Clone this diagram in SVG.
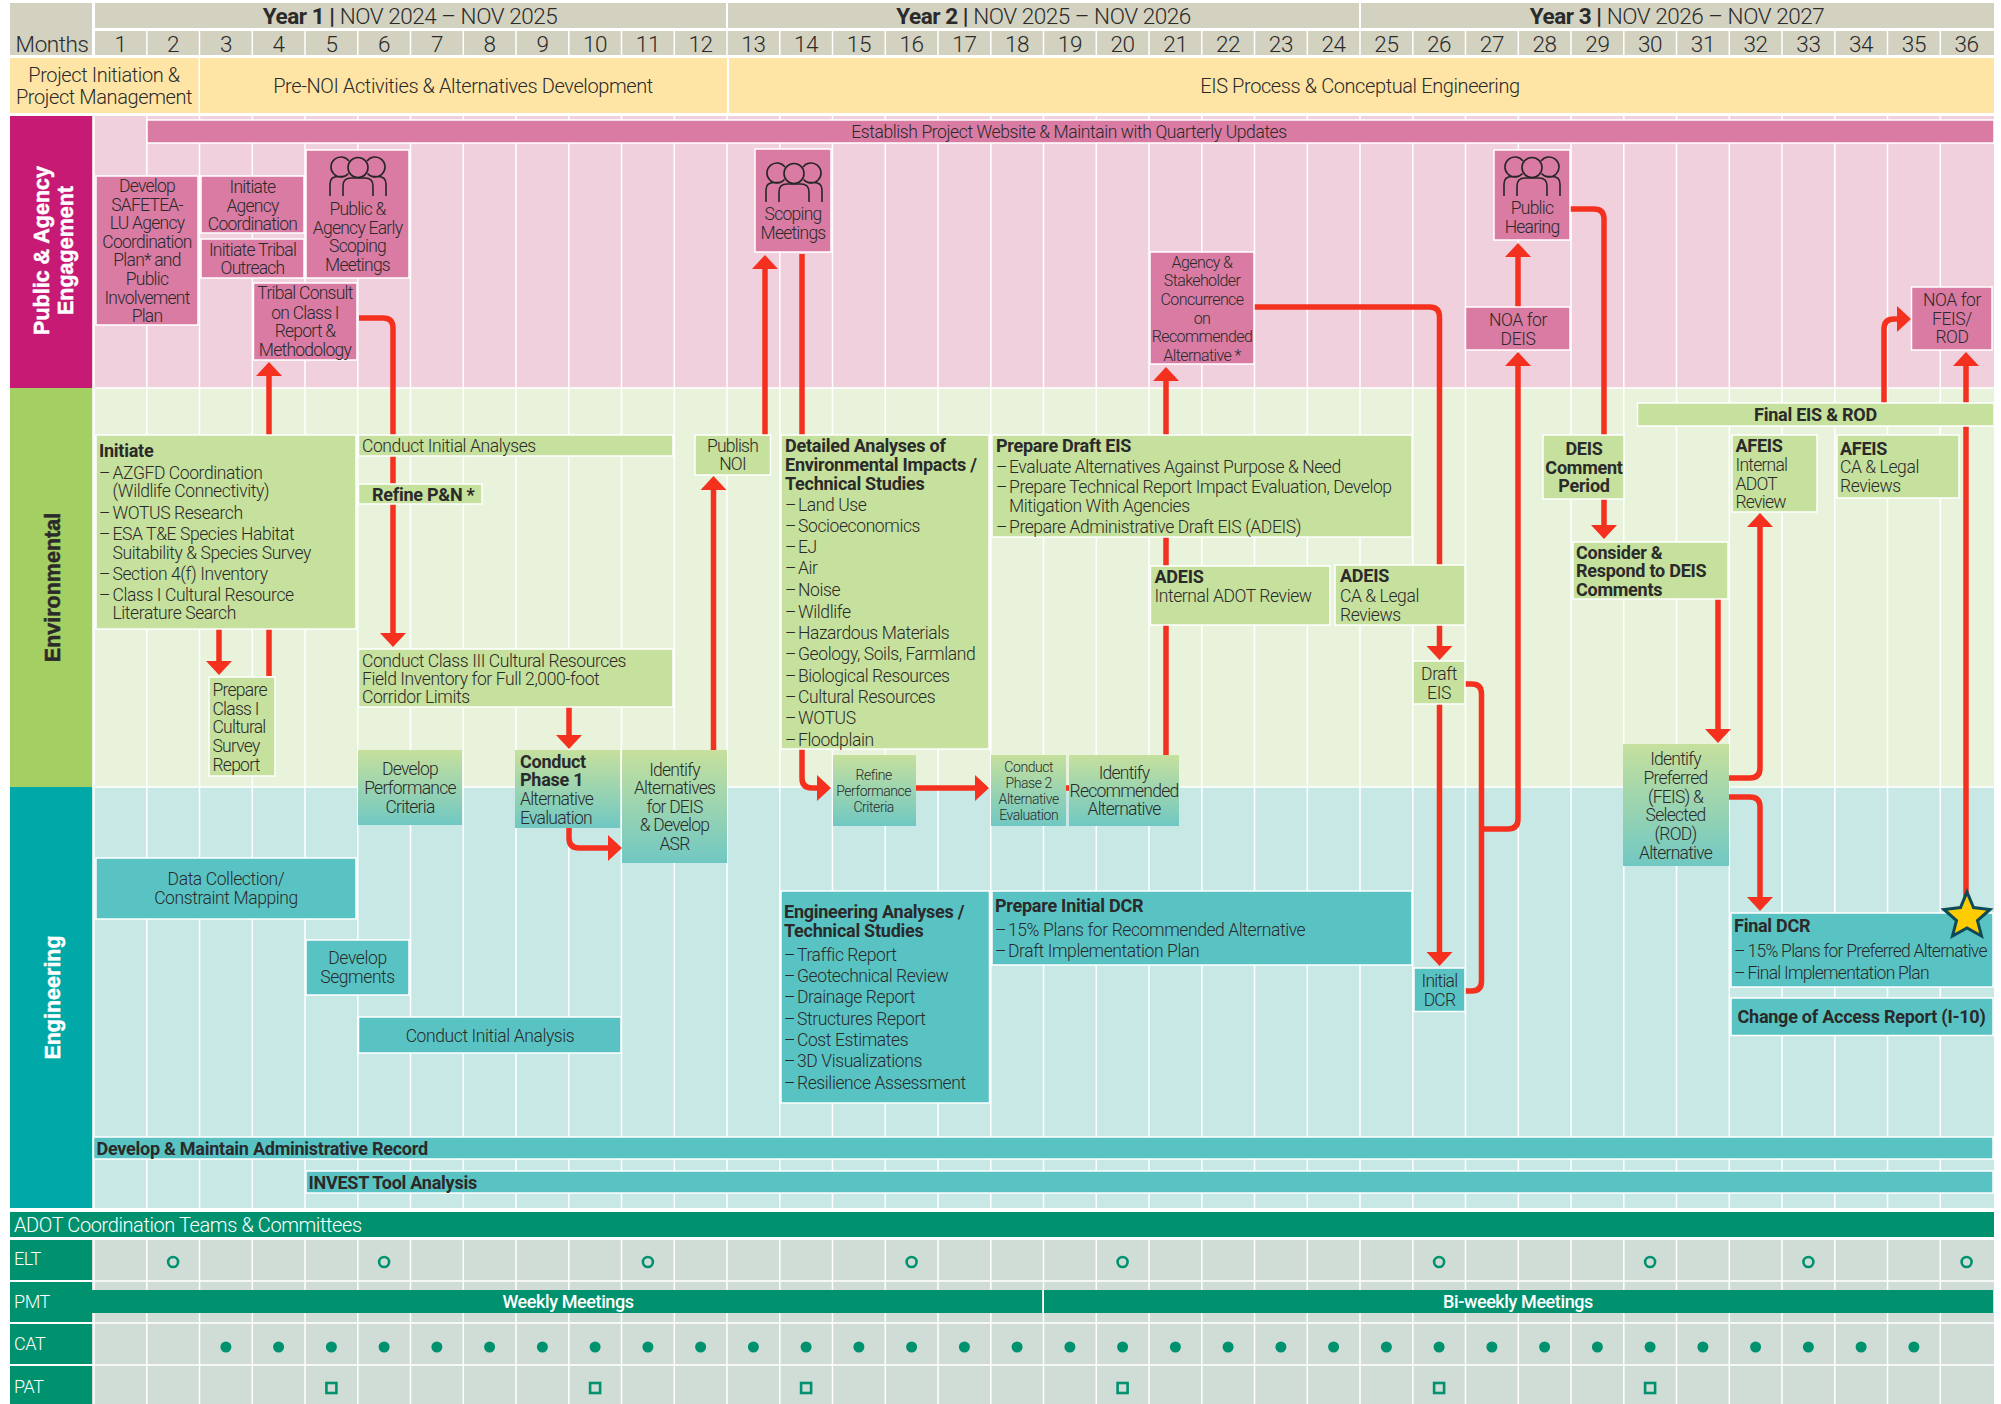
<svg xmlns="http://www.w3.org/2000/svg" width="2001" height="1404" viewBox="0 0 2001 1404">
<style>
text{font-family:"Roboto","Liberation Sans",sans-serif;font-weight:300;font-size:17.500px;fill:#2a2a2a;letter-spacing:-.4px}
.m{text-anchor:middle}
.b,.b tspan{font-weight:700;font-size:18px;letter-spacing:-.25px}
.s{font-size:14px;letter-spacing:-.45px}
.h{font-size:22.500px;letter-spacing:-.45px}
.y{font-size:20px;letter-spacing:-.4px}
.n{letter-spacing:-.75px}
.w{fill:#fff}
.side{font-family:"Liberation Sans",sans-serif;font-weight:700;font-size:21.500px;letter-spacing:0;text-anchor:middle;stroke-width:.5px}
.p{fill:#d97ba2;stroke:#fff;stroke-width:1.5}
.g{fill:#c6e09d;stroke:#fff;stroke-width:1.5}
.t{fill:#59c3c3;stroke:#fff;stroke-width:1.5}
.gt{fill:url(#gt)}
.hd{fill:#d3d1c0}
.yl{fill:#fee5a5}
.dk{fill:#00926f}
.c{fill:none;stroke:#f4311f;stroke-width:5.5}
.a{marker-end:url(#ah)}
.gl{stroke:#fff;stroke-width:1.5;fill:none}
.ic{fill:none;stroke:#262626;stroke-width:1.6}
.oc{fill:none;stroke:#00926f;stroke-width:2.6}
.dc{fill:#00926f}
</style>
<defs>
<linearGradient id="gt" x1="0" y1="0" x2="0" y2="1"><stop offset="0" stop-color="#c6e09d"/><stop offset="1" stop-color="#70c8c3"/></linearGradient>
<marker id="ah" markerUnits="userSpaceOnUse" viewBox="0 0 14 26" refX="1" refY="13" markerWidth="14" markerHeight="26" orient="auto"><path d="M0 0L14 13L0 26Z" fill="#f4311f"/></marker>
<symbol id="people" viewBox="0 0 58 39" width="58" height="39" overflow="visible">
<circle class="ic" cx="29" cy="10.5" r="10"/>
<path class="ic" d="M19.500 16.500A10 10 0 1 1 20 4M38.500 16.500A10 10 0 1 0 38 4"/>
<path class="ic" d="M14 39V29Q14 21 22 21H36Q44 21 44 29V39M1 39V27Q1 19.500 9 19.500H14M57 39V27Q57 19.500 49 19.500H44"/>
</symbol>
</defs>
<rect width="2001" height="1404" fill="#fff"/>

<g id="bands">
<rect x="92" y="116" width="1902" height="272" fill="#f1d0de"/>
<rect x="92" y="388" width="1902" height="399" fill="#e9f3dc"/>
<rect x="92" y="787" width="1902" height="421" fill="#c8e8e6"/>
<rect x="92" y="1240" width="1902" height="164" fill="#d0ddd6"/>
<path class="gl" d="M92 388H1994M92 787H1994M92 1281H1994M92 1323H1994M92 1365H1994"/>
<path class="gl" d="M94 116V1208M146.800 116V1208M199.500 116V1208M252.300 116V1208M305 116V1208M357.800 116V1208M410.500 116V1208M463.300 116V1208M516 116V1208M568.800 116V1208M621.500 116V1208M674.300 116V1208M727 116V1208M779.800 116V1208M832.500 116V1208M885.300 116V1208M938 116V1208M990.800 116V1208M1043.500 116V1208M1096.300 116V1208M1149 116V1208M1201.800 116V1208M1254.500 116V1208M1307.300 116V1208M1360 116V1208M1412.800 116V1208M1465.500 116V1208M1518.300 116V1208M1571 116V1208M1623.800 116V1208M1676.500 116V1208M1729.300 116V1208M1782 116V1208M1834.800 116V1208M1887.500 116V1208M1940.300 116V1208"/>
<path class="gl" d="M94 1240V1404M146.800 1240V1404M199.500 1240V1404M252.300 1240V1404M305 1240V1404M357.800 1240V1404M410.500 1240V1404M463.300 1240V1404M516 1240V1404M568.800 1240V1404M621.500 1240V1404M674.300 1240V1404M727 1240V1404M779.800 1240V1404M832.500 1240V1404M885.300 1240V1404M938 1240V1404M990.800 1240V1404M1043.500 1240V1404M1096.300 1240V1404M1149 1240V1404M1201.800 1240V1404M1254.500 1240V1404M1307.300 1240V1404M1360 1240V1404M1412.800 1240V1404M1465.500 1240V1404M1518.300 1240V1404M1571 1240V1404M1623.800 1240V1404M1676.500 1240V1404M1729.300 1240V1404M1782 1240V1404M1834.800 1240V1404M1887.500 1240V1404M1940.300 1240V1404"/>
</g>

<g id="header">
<rect class="hd" x="10" y="3" width="82" height="52"/>
<text class="h" x="52" y="51.500" text-anchor="middle">Months</text>
<rect class="hd" x="95" y="3" width="631" height="25"/>
<rect class="hd" x="728" y="3" width="631" height="25"/>
<rect class="hd" x="1361" y="3" width="633" height="25"/>
<text class="h m" x="410" y="24"><tspan font-weight="700">Year 1 | </tspan>NOV 2024 – NOV 2025</text>
<text class="h m" x="1043.500" y="24"><tspan font-weight="700">Year 2 | </tspan>NOV 2025 – NOV 2026</text>
<text class="h m" x="1677" y="24"><tspan font-weight="700">Year 3 | </tspan>NOV 2026 – NOV 2027</text>
<rect class="hd" x="95" y="31" width="1899" height="24"/>
<path class="gl" d="M146.800 31V55M199.500 31V55M252.300 31V55M305 31V55M357.800 31V55M410.500 31V55M463.300 31V55M516 31V55M568.800 31V55M621.500 31V55M674.300 31V55M727 31V55M779.800 31V55M832.500 31V55M885.300 31V55M938 31V55M990.800 31V55M1043.500 31V55M1096.300 31V55M1149 31V55M1201.800 31V55M1254.500 31V55M1307.300 31V55M1360 31V55M1412.800 31V55M1465.500 31V55M1518.300 31V55M1571 31V55M1623.800 31V55M1676.500 31V55M1729.300 31V55M1782 31V55M1834.800 31V55M1887.500 31V55M1940.300 31V55"/>
<text class="h m" y="51.500"><tspan x="120.400">1</tspan><tspan x="173.100">2</tspan><tspan x="225.900">3</tspan><tspan x="278.600">4</tspan><tspan x="331.400">5</tspan><tspan x="384.100">6</tspan><tspan x="436.900">7</tspan><tspan x="489.600">8</tspan><tspan x="542.400">9</tspan><tspan x="595.100">10</tspan><tspan x="647.900">11</tspan><tspan x="700.600">12</tspan><tspan x="753.400">13</tspan><tspan x="806.100">14</tspan><tspan x="858.900">15</tspan><tspan x="911.600">16</tspan><tspan x="964.400">17</tspan><tspan x="1017.100">18</tspan><tspan x="1069.900">19</tspan><tspan x="1122.600">20</tspan><tspan x="1175.400">21</tspan><tspan x="1228.100">22</tspan><tspan x="1280.900">23</tspan><tspan x="1333.600">24</tspan><tspan x="1386.400">25</tspan><tspan x="1439.100">26</tspan><tspan x="1491.900">27</tspan><tspan x="1544.600">28</tspan><tspan x="1597.400">29</tspan><tspan x="1650.100">30</tspan><tspan x="1702.900">31</tspan><tspan x="1755.600">32</tspan><tspan x="1808.400">33</tspan><tspan x="1861.100">34</tspan><tspan x="1913.900">35</tspan><tspan x="1966.600">36</tspan></text>
</g>

<g id="phases">
<rect class="yl" x="10" y="58" width="188.500" height="55"/>
<text class="y m"><tspan x="104" y="82">Project Initiation &amp;</tspan><tspan x="104" y="104">Project Management</tspan></text>
<rect class="yl" x="200" y="58" width="527" height="55"/>
<text class="y m" x="463" y="93">Pre-NOI Activities &amp; Alternatives Development</text>
<rect class="yl" x="729" y="58" width="1265" height="55"/>
<text class="y m" x="1360" y="93">EIS Process &amp; Conceptual Engineering</text>
</g>

<g id="lanes">
<rect x="10" y="116" width="82" height="272" fill="#c71a75"/>
<text class="side w" stroke="#fff" transform="translate(49 250.500) rotate(-90)">Public &amp; Agency</text>
<text class="side w" stroke="#fff" transform="translate(73 250.500) rotate(-90)">Engagement</text>
<rect x="10" y="388" width="82" height="399" fill="#a4cf62"/>
<text class="side" stroke="#2a2a2a" transform="translate(60 587.500) rotate(-90)">Environmental</text>
<rect x="10" y="787" width="82" height="421" fill="#00a9a7"/>
<text class="side w" stroke="#fff" transform="translate(60 997.500) rotate(-90)">Engineering</text>
</g>

<g id="connectors">
<path class="c a" d="M359 318H383Q393 318 393 328V634"/>
<path class="c a" d="M269 676V375"/>
<path class="c a" d="M219 629V662"/>
<path class="c a" d="M569 707V736"/>
<path class="c a" d="M569 828V838Q569 848 579 848H609"/>
<path class="c a" d="M713.500 750V489"/>
<path class="c a" d="M765 435V268"/>
<path class="c a" d="M802 254V778Q802 788 812 788H818"/>
<path class="c a" d="M916 788H976"/>
<path class="c" d="M1066 788H1070"/>
<path class="c a" d="M1166 755V380"/>
<path class="c a" d="M1253 307H1429.500Q1439.500 307 1439.500 317V647"/>
<path class="c a" d="M1439.500 704V953"/>
<path class="c" d="M1465 684H1472Q1481.500 684 1481.500 694V981Q1481.500 991 1472 991H1465"/>
<path class="c a" d="M1481.500 829H1508Q1518 829 1518 819V365"/>
<path class="c a" d="M1518 307V256"/>
<path class="c a" d="M1570 209H1594Q1604 209 1604 219V526"/>
<path class="c a" d="M1718 599V730"/>
<path class="c a" d="M1729 778H1750Q1760 778 1760 768V526"/>
<path class="c a" d="M1729 797H1750Q1760 797 1760 807V898"/>
<path class="c a" d="M1966 900V365"/>
<path class="c a" d="M1884 403V329Q1884 319 1894 319H1898"/>
</g>

<g id="n-website"><rect class="p" x="147" y="120" width="1847" height="23"/><text class="m" x="1069" y="138">Establish Project Website &amp; Maintain with Quarterly Updates</text></g>
<g id="n-safetea"><rect class="p" x="96" y="176" width="102" height="149"/><text class="m n"><tspan x="147" y="192">Develop</tspan><tspan x="147" y="210.500">SAFETEA-</tspan><tspan x="147" y="229">LU Agency</tspan><tspan x="147" y="248">Coordination</tspan><tspan x="147" y="266">Plan* and</tspan><tspan x="147" y="285">Public</tspan><tspan x="147" y="304">Involvement</tspan><tspan x="147" y="322">Plan</tspan></text></g>
<g id="n-agency"><rect class="p" x="201" y="176" width="103" height="57"/><text class="m n"><tspan x="252.500" y="193">Initiate</tspan><tspan x="252.500" y="211.500">Agency</tspan><tspan x="252.500" y="230">Coordination</tspan></text></g>
<g id="n-tribal"><rect class="p" x="201" y="239" width="103" height="39"/><text class="m n"><tspan x="252.500" y="256">Initiate Tribal</tspan><tspan x="252.500" y="274">Outreach</tspan></text></g>
<g id="n-early"><rect class="p" x="306" y="150" width="103" height="128"/><use href="#people" x="329" y="157"/><text class="m n"><tspan x="357.500" y="215">Public &amp;</tspan><tspan x="357.500" y="233.500">Agency Early</tspan><tspan x="357.500" y="252">Scoping</tspan><tspan x="357.500" y="271">Meetings</tspan></text></g>
<g id="n-consult"><rect class="p" x="253.500" y="283" width="103.500" height="77"/><text class="m n"><tspan x="305" y="299">Tribal Consult</tspan><tspan x="305" y="318.500">on Class I</tspan><tspan x="305" y="337">Report &amp;</tspan><tspan x="305" y="356">Methodology</tspan></text></g>
<g id="n-scoping"><rect class="p" x="755" y="149" width="76" height="103"/><use href="#people" x="765" y="163"/><text class="m n"><tspan x="793" y="220">Scoping</tspan><tspan x="793" y="239">Meetings</tspan></text></g>
<g id="n-concurrence"><rect class="p" x="1150" y="252" width="104" height="112"/><text class="m" style="font-size:16px;letter-spacing:-.6px"><tspan x="1202" y="268">Agency &amp;</tspan><tspan x="1202" y="286">Stakeholder</tspan><tspan x="1202" y="305">Concurrence</tspan><tspan x="1202" y="324">on</tspan><tspan x="1202" y="342">Recommended</tspan><tspan x="1202" y="361">Alternative *</tspan></text></g>
<g id="n-hearing"><rect class="p" x="1494" y="150" width="76" height="90"/><use href="#people" x="1503" y="157"/><text class="m n"><tspan x="1532" y="214">Public</tspan><tspan x="1532" y="233">Hearing</tspan></text></g>
<g id="n-noa-deis"><rect class="p" x="1465.500" y="307" width="104.500" height="43"/><text class="m"><tspan x="1518" y="326">NOA for</tspan><tspan x="1518" y="345">DEIS</tspan></text></g>
<g id="n-noa-feis"><rect class="p" x="1911.500" y="287" width="80.500" height="63"/><text class="m"><tspan x="1952" y="306">NOA for</tspan><tspan x="1952" y="325">FEIS/</tspan><tspan x="1952" y="343">ROD</tspan></text></g>

<g id="n-initiate"><rect class="g" x="96" y="435" width="260" height="194"/><text><tspan class="b" x="99" y="457">Initiate</tspan><tspan x="99" y="479">–</tspan><tspan x="112.500" y="479">AZGFD Coordination</tspan><tspan x="112.500" y="497">(Wildlife Connectivity)</tspan><tspan x="99" y="519">–</tspan><tspan x="112.500" y="519">WOTUS Research</tspan><tspan x="99" y="540">–</tspan><tspan x="112.500" y="540">ESA T&amp;E Species Habitat</tspan><tspan x="112.500" y="559">Suitability &amp; Species Survey</tspan><tspan x="99" y="580">–</tspan><tspan x="112.500" y="580">Section 4(f) Inventory</tspan><tspan x="99" y="601">–</tspan><tspan x="112.500" y="601">Class I Cultural Resource</tspan><tspan x="112.500" y="619">Literature Search</tspan></text></g>
<g id="n-prepare-class"><rect class="g" x="209" y="677" width="66" height="99"/><text class="n"><tspan x="212.500" y="696">Prepare</tspan><tspan x="212.500" y="714.500">Class I</tspan><tspan x="212.500" y="733">Cultural</tspan><tspan x="212.500" y="752">Survey</tspan><tspan x="212.500" y="771">Report</tspan></text></g>
<g id="n-initial-analyses"><rect class="g" x="358.500" y="435" width="314.500" height="21"/><text x="362" y="452">Conduct Initial Analyses</text></g>
<g id="n-refine-pn"><rect class="g" x="358.500" y="484" width="123.500" height="20"/><text class="b" x="372" y="501">Refine P&amp;N *</text></g>
<g id="n-class3"><rect class="g" x="358.500" y="649" width="314.500" height="58"/><text><tspan x="362" y="666.500">Conduct Class III Cultural Resources</tspan><tspan x="362" y="685">Field Inventory for Full 2,000-foot</tspan><tspan x="362" y="703">Corridor Limits</tspan></text></g>
<g id="n-perf"><rect class="gt" x="358" y="750" width="104" height="75"/><text class="m n"><tspan x="410" y="775">Develop</tspan><tspan x="410" y="794">Performance</tspan><tspan x="410" y="813">Criteria</tspan></text></g>
<g id="n-phase1"><rect class="gt" x="515" y="750" width="105" height="78"/><text class="n"><tspan class="b" x="520" y="768">Conduct</tspan><tspan class="b" x="520" y="786">Phase 1</tspan><tspan x="520" y="805">Alternative</tspan><tspan x="520" y="824">Evaluation</tspan></text></g>
<g id="n-alternatives"><rect class="gt" x="622" y="750" width="105" height="113"/><text class="m n"><tspan x="674.500" y="776">Identify</tspan><tspan x="674.500" y="794">Alternatives</tspan><tspan x="674.500" y="813">for DEIS</tspan><tspan x="674.500" y="831">&amp; Develop</tspan><tspan x="674.500" y="850">ASR</tspan></text></g>
<g id="n-noi"><rect class="g" x="695" y="435" width="75.500" height="40"/><text class="m n"><tspan x="732.500" y="452">Publish</tspan><tspan x="732.500" y="470">NOI</tspan></text></g>
<g id="n-detailed"><rect class="g" x="781" y="435" width="208" height="314"/><text><tspan class="b" x="785" y="452">Detailed Analyses of</tspan><tspan class="b" x="785" y="471">Environmental Impacts /</tspan><tspan class="b" x="785" y="490">Technical Studies</tspan><tspan x="785" y="511">–</tspan><tspan x="798" y="511">Land Use</tspan><tspan x="785" y="532">–</tspan><tspan x="798" y="532">Socioeconomics</tspan><tspan x="785" y="553">–</tspan><tspan x="798" y="553">EJ</tspan><tspan x="785" y="574">–</tspan><tspan x="798" y="574">Air</tspan><tspan x="785" y="596">–</tspan><tspan x="798" y="596">Noise</tspan><tspan x="785" y="618">–</tspan><tspan x="798" y="618">Wildlife</tspan><tspan x="785" y="639">–</tspan><tspan x="798" y="639">Hazardous Materials</tspan><tspan x="785" y="660">–</tspan><tspan x="798" y="660">Geology, Soils, Farmland</tspan><tspan x="785" y="682">–</tspan><tspan x="798" y="682">Biological Resources</tspan><tspan x="785" y="703">–</tspan><tspan x="798" y="703">Cultural Resources</tspan><tspan x="785" y="724">–</tspan><tspan x="798" y="724">WOTUS</tspan><tspan x="785" y="746">–</tspan><tspan x="798" y="746">Floodplain</tspan></text></g>
<g id="n-draft"><rect class="g" x="992" y="435" width="420" height="102"/><text><tspan class="b" x="996" y="452">Prepare Draft EIS</tspan><tspan x="996" y="473">–</tspan><tspan x="1009" y="473">Evaluate Alternatives Against Purpose &amp; Need</tspan><tspan x="996" y="493">–</tspan><tspan x="1009" y="493">Prepare Technical Report Impact Evaluation, Develop</tspan><tspan x="1009" y="512">Mitigation With Agencies</tspan><tspan x="996" y="533">–</tspan><tspan x="1009" y="533">Prepare Administrative Draft EIS (ADEIS)</tspan></text></g>
<g id="n-adeis-int"><rect class="g" x="1150.500" y="566" width="179.500" height="59"/><text><tspan class="b" x="1154.500" y="583">ADEIS</tspan><tspan x="1154.500" y="602">Internal ADOT Review</tspan></text></g>
<g id="n-adeis-ca"><rect class="g" x="1335" y="565" width="130" height="60"/><text><tspan class="b" x="1340" y="582">ADEIS</tspan><tspan x="1340" y="602">CA &amp; Legal</tspan><tspan x="1340" y="621">Reviews</tspan></text></g>
<g id="n-refine-perf"><rect class="gt" x="833" y="755" width="83" height="71"/><text class="m s"><tspan x="873.700" y="780">Refine</tspan><tspan x="873.700" y="796">Performance</tspan><tspan x="873.700" y="812">Criteria</tspan></text></g>
<g id="n-phase2"><rect class="gt" x="991" y="755" width="75" height="71"/><text class="m s"><tspan x="1028.700" y="772">Conduct</tspan><tspan x="1028.700" y="788">Phase 2</tspan><tspan x="1028.700" y="804">Alternative</tspan><tspan x="1028.700" y="820">Evaluation</tspan></text></g>
<g id="n-recommended"><rect class="gt" x="1069" y="755" width="110" height="71"/><text class="m n"><tspan x="1124" y="779">Identify</tspan><tspan x="1124" y="797">Recommended</tspan><tspan x="1124" y="815">Alternative</tspan></text></g>
<g id="n-draft-eis"><rect class="g" x="1413" y="661" width="52" height="43"/><text class="m"><tspan x="1439" y="680">Draft</tspan><tspan x="1439" y="699">EIS</tspan></text></g>
<g id="n-comment"><rect class="g" x="1543" y="435" width="81" height="64"/><text class="m b"><tspan x="1584" y="455">DEIS</tspan><tspan x="1584" y="474">Comment</tspan><tspan x="1584" y="492">Period</tspan></text></g>
<g id="n-respond"><rect class="g" x="1573" y="542" width="155" height="57"/><text class="b"><tspan x="1576" y="559">Consider &amp;</tspan><tspan x="1576" y="577">Respond to DEIS</tspan><tspan x="1576" y="596">Comments</tspan></text></g>
<g id="n-preferred"><rect class="gt" x="1623" y="744" width="106" height="122"/><text class="m n"><tspan x="1675.500" y="764.500">Identify</tspan><tspan x="1675.500" y="783.500">Preferred</tspan><tspan x="1675.500" y="803">(FEIS) &amp;</tspan><tspan x="1675.500" y="821">Selected</tspan><tspan x="1675.500" y="840">(ROD)</tspan><tspan x="1675.500" y="859">Alternative</tspan></text></g>
<g id="n-afeis-int"><rect class="g" x="1732" y="435" width="85" height="77"/><text class="n"><tspan class="b" x="1735.500" y="451.500">AFEIS</tspan><tspan x="1735.500" y="471">Internal</tspan><tspan x="1735.500" y="490">ADOT</tspan><tspan x="1735.500" y="508">Review</tspan></text></g>
<g id="n-afeis-ca"><rect class="g" x="1837" y="435" width="122" height="63"/><text><tspan class="b" x="1840" y="454.500">AFEIS</tspan><tspan x="1840" y="473">CA &amp; Legal</tspan><tspan x="1840" y="492">Reviews</tspan></text></g>
<g id="n-final-eis"><rect class="g" x="1637.500" y="403" width="356.500" height="23"/><text class="m b" x="1815.500" y="420.500">Final EIS &amp; ROD</text></g>

<g id="n-data"><rect class="t" x="96" y="858" width="260" height="61"/><text class="m"><tspan x="226" y="885">Data Collection/</tspan><tspan x="226" y="904">Constraint Mapping</tspan></text></g>
<g id="n-segments"><rect class="t" x="306" y="940" width="103" height="55"/><text class="m"><tspan x="357.500" y="964">Develop</tspan><tspan x="357.500" y="983">Segments</tspan></text></g>
<g id="n-analysis"><rect class="t" x="358.500" y="1017" width="262.500" height="36"/><text class="m" x="490" y="1042">Conduct Initial Analysis</text></g>
<g id="n-eng"><rect class="t" x="781" y="891" width="208.500" height="212"/><text><tspan class="b" x="784" y="918">Engineering Analyses /</tspan><tspan class="b" x="784" y="937">Technical Studies</tspan><tspan x="784" y="961">–</tspan><tspan x="797" y="961">Traffic Report</tspan><tspan x="784" y="982">–</tspan><tspan x="797" y="982">Geotechnical Review</tspan><tspan x="784" y="1003">–</tspan><tspan x="797" y="1003">Drainage Report</tspan><tspan x="784" y="1025">–</tspan><tspan x="797" y="1025">Structures Report</tspan><tspan x="784" y="1046">–</tspan><tspan x="797" y="1046">Cost Estimates</tspan><tspan x="784" y="1067">–</tspan><tspan x="797" y="1067">3D Visualizations</tspan><tspan x="784" y="1089">–</tspan><tspan x="797" y="1089">Resilience Assessment</tspan></text></g>
<g id="n-dcr"><rect class="t" x="992" y="891" width="420" height="74"/><text><tspan class="b" x="995" y="912">Prepare Initial DCR</tspan><tspan x="995" y="936">–</tspan><tspan x="1008" y="936">15% Plans for Recommended Alternative</tspan><tspan x="995" y="957">–</tspan><tspan x="1008" y="957">Draft Implementation Plan</tspan></text></g>
<g id="n-initial-dcr"><rect class="t" x="1414" y="968" width="51" height="43.500"/><text class="m n"><tspan x="1439.500" y="987">Initial</tspan><tspan x="1439.500" y="1006">DCR</tspan></text></g>
<g id="n-final-dcr"><rect class="t" x="1731" y="913" width="262" height="74"/><text class="n"><tspan class="b" x="1734" y="932">Final DCR</tspan><tspan x="1734" y="956.500">–</tspan><tspan x="1747.500" y="956.500">15% Plans for Preferred Alternative</tspan><tspan x="1734" y="978.500">–</tspan><tspan x="1747.500" y="978.500">Final Implementation Plan</tspan></text></g>
<g id="n-access"><rect class="t" x="1731" y="998" width="262" height="37.500"/><text class="m b" x="1861.500" y="1023">Change of Access Report (I-10)</text></g>
<g id="n-star"><path d="M1967 892L1973.500 907.500L1990 909.500L1977.500 920.500L1981.500 936L1967 928L1952.500 936L1956.500 920.500L1944 909.500L1960.500 907.500Z" fill="#ffcc00" stroke="#0d4a55" stroke-width="3"/></g>
<g id="n-record"><rect class="t" x="93.500" y="1137" width="1899.500" height="22"/><text class="b" x="96.500" y="1155">Develop &amp; Maintain Administrative Record</text></g>
<g id="n-invest"><rect class="t" x="306" y="1171" width="1687" height="22"/><text class="b" x="308.500" y="1189">INVEST Tool Analysis</text></g>

<g id="teams">
<rect class="dk" x="10" y="1212" width="1984" height="25"/>
<text class="w y" x="14" y="1232">ADOT Coordination Teams &amp; Committees</text>
<rect class="dk" x="10" y="1240" width="82" height="40"/><text class="w" x="14" y="1265" style="font-size:18px">ELT</text>
<rect class="dk" x="10" y="1282" width="82" height="40"/><text class="w" x="14" y="1308" style="font-size:18px">PMT</text>
<rect class="dk" x="10" y="1324" width="82" height="40"/><text class="w" x="14" y="1350" style="font-size:18px">CAT</text>
<rect class="dk" x="10" y="1366" width="82" height="38"/><text class="w" x="14" y="1393" style="font-size:18px">PAT</text>
<rect class="dk" x="92" y="1290" width="950" height="23"/><text class="w m" x="568" y="1308" style="font-weight:500;font-size:18px">Weekly Meetings</text>
<rect class="dk" x="1044" y="1290" width="949" height="23"/><text class="w m" x="1518" y="1308" style="font-weight:500;font-size:18px">Bi-weekly Meetings</text>
<g id="elt"><circle class="oc" cx="173.100" cy="1262" r="5"/><circle class="oc" cx="384.100" cy="1262" r="5"/><circle class="oc" cx="647.900" cy="1262" r="5"/><circle class="oc" cx="911.600" cy="1262" r="5"/><circle class="oc" cx="1122.600" cy="1262" r="5"/><circle class="oc" cx="1439.100" cy="1262" r="5"/><circle class="oc" cx="1650.100" cy="1262" r="5"/><circle class="oc" cx="1808.400" cy="1262" r="5"/><circle class="oc" cx="1966.600" cy="1262" r="5"/></g>
<g id="cat"><circle class="dc" cx="225.900" cy="1347" r="5.500"/><circle class="dc" cx="278.600" cy="1347" r="5.500"/><circle class="dc" cx="331.400" cy="1347" r="5.500"/><circle class="dc" cx="384.100" cy="1347" r="5.500"/><circle class="dc" cx="436.900" cy="1347" r="5.500"/><circle class="dc" cx="489.600" cy="1347" r="5.500"/><circle class="dc" cx="542.400" cy="1347" r="5.500"/><circle class="dc" cx="595.100" cy="1347" r="5.500"/><circle class="dc" cx="647.900" cy="1347" r="5.500"/><circle class="dc" cx="700.600" cy="1347" r="5.500"/><circle class="dc" cx="753.400" cy="1347" r="5.500"/><circle class="dc" cx="806.100" cy="1347" r="5.500"/><circle class="dc" cx="858.900" cy="1347" r="5.500"/><circle class="dc" cx="911.600" cy="1347" r="5.500"/><circle class="dc" cx="964.400" cy="1347" r="5.500"/><circle class="dc" cx="1017.100" cy="1347" r="5.500"/><circle class="dc" cx="1069.900" cy="1347" r="5.500"/><circle class="dc" cx="1122.600" cy="1347" r="5.500"/><circle class="dc" cx="1175.400" cy="1347" r="5.500"/><circle class="dc" cx="1228.100" cy="1347" r="5.500"/><circle class="dc" cx="1280.900" cy="1347" r="5.500"/><circle class="dc" cx="1333.600" cy="1347" r="5.500"/><circle class="dc" cx="1386.400" cy="1347" r="5.500"/><circle class="dc" cx="1439.100" cy="1347" r="5.500"/><circle class="dc" cx="1491.900" cy="1347" r="5.500"/><circle class="dc" cx="1544.600" cy="1347" r="5.500"/><circle class="dc" cx="1597.400" cy="1347" r="5.500"/><circle class="dc" cx="1650.100" cy="1347" r="5.500"/><circle class="dc" cx="1702.900" cy="1347" r="5.500"/><circle class="dc" cx="1755.600" cy="1347" r="5.500"/><circle class="dc" cx="1808.400" cy="1347" r="5.500"/><circle class="dc" cx="1861.100" cy="1347" r="5.500"/><circle class="dc" cx="1913.900" cy="1347" r="5.500"/></g>
<g id="pat"><rect class="oc" x="326.400" y="1383" width="10" height="10"/><rect class="oc" x="590.100" y="1383" width="10" height="10"/><rect class="oc" x="801.100" y="1383" width="10" height="10"/><rect class="oc" x="1117.600" y="1383" width="10" height="10"/><rect class="oc" x="1434.100" y="1383" width="10" height="10"/><rect class="oc" x="1645.100" y="1383" width="10" height="10"/></g>
</g>
</svg>
